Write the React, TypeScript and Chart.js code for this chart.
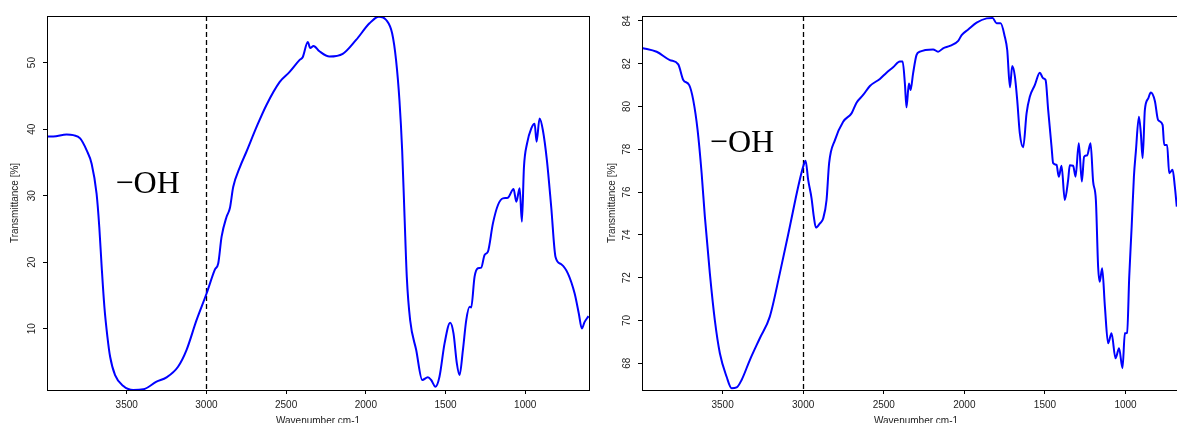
import React, { useEffect, useRef } from "react";
import { Chart, registerables } from "chart.js";

Chart.register(...registerables);

// ---------- data ----------
const leftWavenumber = [
  4000, 3961, 3877, 3835, 3792, 3751, 3720, 3689, 3672, 3657, 3640, 3621, 3604, 3573, 3521, 3459,
  3396, 3313, 3250, 3178, 3125, 3062, 2999, 2947, 2926, 2905, 2874, 2853, 2832, 2790, 2749, 2686,
  2624, 2540, 2478, 2415, 2396, 2364, 2349, 2328, 2291, 2228, 2145, 2061, 1977, 1918, 1872, 1835,
  1810, 1789, 1772, 1757, 1743, 1722, 1684, 1646, 1611, 1590, 1563, 1538, 1506, 1471, 1450, 1429,
  1412, 1391, 1370, 1349, 1339, 1318, 1297, 1276, 1255, 1234, 1203, 1171, 1140, 1109, 1073, 1056,
  1035, 1021, 1008, 989, 962, 941, 929, 910, 889, 864, 837, 810, 774, 732, 690, 664, 645, 628, 603,
];
const leftTransmittance = [
  38.9, 38.9, 39.2, 39.1, 38.6, 36.8, 34.8, 30.3, 25.3, 19.3, 13.3, 8.8, 5.8, 3.05, 1.4, 0.8,
  0.9, 2.05, 2.7, 4.3, 6.8, 11.3, 15.3, 18.9, 19.8, 23.8, 26.8, 28.1, 31.3, 34.3, 36.6, 40.3,
  43.6, 47.1, 48.6, 50.4, 50.8, 53.1, 52.2, 52.5, 51.7, 50.9, 51.3, 53.4, 55.9, 56.9, 56.4, 54.4,
  50.3, 44.3, 36.8, 26.8, 17.8, 11.3, 6.8, 2.3, 2.7, 2.3, 1.3, 2.8, 7.8, 10.9, 9.3, 4.8,
  3.05, 6.8, 11.3, 13.3, 13.2, 17.8, 19.1, 19.2, 21.1, 21.6, 25.8, 28.6, 29.6, 29.7, 31.0, 29.1,
  31.1, 26.1, 34.3, 37.8, 40.1, 40.8, 38.1, 41.6, 39.8, 35.3, 28.3, 20.8, 19.7, 18.3, 15.3, 12.3, 10.05, 11.0, 11.9,
];

const rightWavenumber = [
  4000, 3909, 3827, 3775, 3744, 3707, 3682, 3655, 3630, 3610, 3579, 3548, 3517, 3475, 3444, 3413,
  3382, 3331, 3269, 3207, 3145, 3083, 3031, 3000, 2985, 2969, 2948, 2934, 2921, 2896, 2876, 2855,
  2839, 2803, 2752, 2700, 2669, 2628, 2586, 2524, 2483, 2442, 2400, 2383, 2369, 2359, 2344, 2334,
  2318, 2297, 2276, 2194, 2163, 2132, 2090, 2038, 2017, 1976, 1924, 1862, 1825, 1800, 1775, 1749,
  1734, 1717, 1703, 1687, 1672, 1656, 1635, 1614, 1594, 1563, 1532, 1511, 1496, 1480, 1459, 1449,
  1428, 1414, 1397, 1377, 1356, 1346, 1325, 1310, 1290, 1271, 1257, 1238, 1217, 1201, 1184, 1170,
  1160, 1145, 1128, 1108, 1087, 1062, 1040, 1019, 1004, 990, 977, 962, 948, 936, 917, 905,
  894, 880, 859, 843, 818, 798, 770, 760, 742, 729, 708, 694, 682,
];
const rightTransmittance = [
  82.74, 82.56, 82.17, 81.97, 81.24, 81.0, 80.3, 78.9, 76.88, 74.85, 72.2, 70.0, 68.47, 67.37, 66.83, 66.87,
  67.22, 68.15, 69.17, 70.18, 72.2, 74.38, 76.25, 77.19, 77.47, 76.57, 75.71, 74.85, 74.34, 74.54, 74.77, 75.63,
  77.35, 78.43, 79.29, 79.68, 80.18, 80.54, 80.96, 81.29, 81.58, 81.83, 82.1, 82.1, 81.08, 79.96, 81.08, 80.77,
  81.55, 82.4, 82.56, 82.67, 82.56, 82.72, 82.83, 83.07, 83.34, 83.6, 83.92, 84.12, 84.14, 83.89, 83.89, 83.26,
  82.64, 80.9, 81.89, 81.43, 80.3, 78.75, 78.09, 79.68, 80.46, 81.0, 81.58, 81.32, 81.24, 79.84, 78.12, 77.35,
  77.27, 76.72, 77.23, 75.63, 76.57, 77.25, 77.23, 76.72, 78.28, 76.49, 77.65, 77.72, 78.28, 76.49, 75.63, 72.51,
  71.81, 72.44, 70.65, 68.93, 69.4, 68.23, 68.7, 67.77, 69.4, 69.42, 72.05, 74.38, 76.72, 77.89, 79.52, 78.75,
  77.58, 79.84, 80.38, 80.65, 80.26, 79.37, 79.14, 78.2, 78.2, 76.88, 77.04, 76.25, 75.32,
];

const xTickValues = [3500, 3000, 2500, 2000, 1500, 1000];
const leftYTickValues = [10, 20, 30, 40, 50];
const rightYTickValues = [68, 70, 72, 74, 76, 78, 80, 82, 84];
const markerWavenumber = 3000;
const annotationText = "\u2212OH";
const xTitle = "Wavenumber cm-1";
const yTitle = "Transmittance [%]";

// ---------- styling ----------
const SANS = '"Liberation Sans", Arial, sans-serif';
const SERIF = '"Liberation Serif", "Times New Roman", serif';
const CANVAS_H = 440;

type PanelProps = {
  left: number;
  width: number;
  axisWidth: number;
  padRight: number;
  xMin: number;
  xMax: number;
  yMin: number;
  yMax: number;
  yTicks: number[];
  wn: number[];
  tr: number[];
  labelX: number;
  labelY: number;
  yTitlePad: number;
};

function Panel(p: PanelProps) {
  const ref = useRef<HTMLCanvasElement | null>(null);

  useEffect(() => {
    const canvas = ref.current;
    if (!canvas) return;

    const overlay = {
      id: "overlay",
      beforeDatasetsDraw(chart: any) {
        const { ctx, chartArea: a, scales } = chart;
        const px = Math.round(scales.x.getPixelForValue(markerWavenumber)) + 0.5;
        ctx.save();
        ctx.strokeStyle = "#000";
        ctx.lineWidth = 1.3;
        ctx.setLineDash([5, 3]);
        ctx.beginPath();
        ctx.moveTo(px, a.top);
        ctx.lineTo(px, a.bottom);
        ctx.stroke();
        ctx.restore();
      },
      afterDatasetsDraw(chart: any) {
        const { ctx, chartArea: a, scales } = chart;
        ctx.save();
        ctx.strokeStyle = "#000";
        ctx.lineWidth = 1;
        ctx.strokeRect(
          Math.round(a.left) + 0.5,
          Math.round(a.top) + 0.5,
          Math.round(a.right) - Math.round(a.left),
          Math.round(a.bottom) - Math.round(a.top)
        );
        ctx.font = `32px ${SERIF}`;
        ctx.fillStyle = "#000";
        ctx.textAlign = "left";
        ctx.textBaseline = "middle";
        ctx.fillText(annotationText, scales.x.getPixelForValue(p.labelX), scales.y.getPixelForValue(p.labelY));
        ctx.restore();
      },
    };

    const chart = new Chart(canvas, {
      type: "line",
      data: {
        datasets: [
          {
            data: p.wn.map((w, i) => ({ x: w, y: p.tr[i] })),
            borderColor: "#0000ff",
            borderWidth: 2,
            pointRadius: 0,
            cubicInterpolationMode: "monotone",
            fill: false,
          },
        ],
      },
      options: {
        animation: false,
        responsive: false,
        devicePixelRatio: 1,
        parsing: false,
        layout: { padding: { top: 16, right: p.padRight, left: 0, bottom: 0 } },
        plugins: { legend: { display: false }, tooltip: { enabled: false } },
        scales: {
          x: {
            type: "linear",
            reverse: true,
            min: p.xMin,
            max: p.xMax,
            afterBuildTicks: (s: any) => {
              s.ticks = xTickValues.map((v) => ({ value: v }));
            },
            afterFit: (s: any) => {
              s.height = CANVAS_H - 390;
            },
            grid: {
              display: true,
              drawOnChartArea: false,
              drawTicks: true,
              tickLength: 4,
              color: "#000",
              lineWidth: 1,
            },
            border: { display: false },
            ticks: {
              autoSkip: false,
              maxRotation: 0,
              minRotation: 0,
              padding: 5,
              color: "#222",
              font: { family: SANS, size: 10 },
              callback: (v: any) => String(v),
            },
            title: {
              display: true,
              text: xTitle,
              color: "#222",
              font: { family: SANS, size: 10 },
              padding: { top: 0, bottom: 13 },
            },
          },
          y: {
            type: "linear",
            min: p.yMin,
            max: p.yMax,
            afterBuildTicks: (s: any) => {
              s.ticks = p.yTicks.map((v) => ({ value: v }));
            },
            afterFit: (s: any) => {
              s.width = p.axisWidth;
            },
            grid: {
              display: true,
              drawOnChartArea: false,
              drawTicks: true,
              tickLength: 4,
              color: "#000",
              lineWidth: 1,
            },
            border: { display: false },
            ticks: {
              autoSkip: false,
              minRotation: 90,
              maxRotation: 90,
              crossAlign: "center",
              padding: 5,
              color: "#222",
              font: { family: SANS, size: 10 },
              callback: (v: any) => String(v),
            },
            title: {
              display: true,
              text: yTitle,
              color: "#222",
              font: { family: SANS, size: 10 },
              padding: { top: p.yTitlePad, bottom: 0 },
            },
          },
        },
      },
      plugins: [overlay],
    } as any);

    return () => chart.destroy();
  }, []);

  return (
    <canvas
      ref={ref}
      width={p.width}
      height={CANVAS_H}
      style={{ position: "absolute", left: p.left, top: 0, width: p.width, height: CANVAS_H }}
    />
  );
}

export default function App() {
  return (
    <div
      style={{
        position: "fixed",
        left: 0,
        top: 0,
        width: 1177,
        height: 423,
        overflow: "hidden",
        background: "#fff",
      }}
    >
      <Panel
        left={0}
        width={590}
        axisWidth={47}
        padRight={1}
        xMin={600}
        xMax={4000}
        yMin={0.8}
        yMax={57}
        yTicks={leftYTickValues}
        wn={leftWavenumber}
        tr={leftTransmittance}
        labelX={3570}
        labelY={31.6}
        yTitlePad={9}
      />
      <Panel
        left={590}
        width={601}
        axisWidth={52}
        padRight={1}
        xMin={600}
        xMax={4000}
        yMin={66.75}
        yMax={84.23}
        yTicks={rightYTickValues}
        wn={rightWavenumber}
        tr={rightTransmittance}
        labelX={3579}
        labelY={78.28}
        yTitlePad={16.7}
      />
    </div>
  );
}
